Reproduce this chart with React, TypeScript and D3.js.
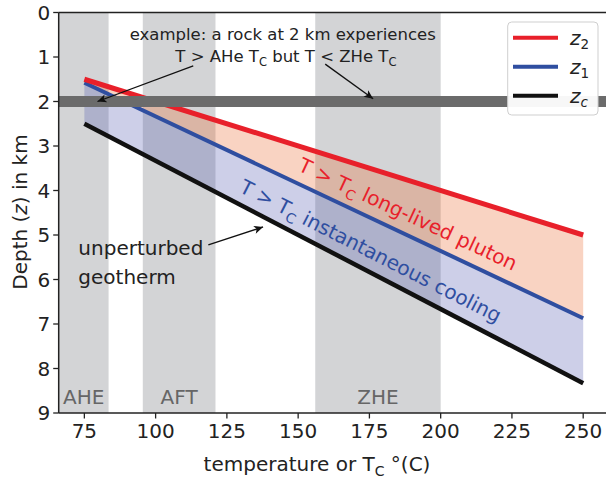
import React from 'react';
import * as d3 from 'd3';

// Geotherm depths (km) at the ends of the temperature range (°C)
const temps = [75, 250];
const z2Depth = [1.5, 5.0];
const z1Depth = [1.58, 6.87];
const zcDepth = [2.5, 8.33];

const xTicks = [75, 100, 125, 150, 175, 200, 225, 250];
const yTicks = [0, 1, 2, 3, 4, 5, 6, 7, 8, 9];

// Closure-temperature windows of the thermochronometers
const bandNames = ['AHE', 'AFT', 'ZHE'];
const bandLo = [60, 95.5, 156];
const bandHi = [83.5, 121, 200];

const exampleDepth = 2;

const legendNames = ['2', '1', 'c'];
const legendColors = ['#e8202a', '#2f4ea0', '#111111'];

const W = 606;
const H = 486;
const FONT = 'DejaVu Sans';

type Piece = { t: string; sub?: boolean };

// Text runs with lowered subscripts; the baseline is restored on the run after a subscript
function runs(pieces: Piece[], subSize: number, shift: number) {
  return pieces.map((p, i) => {
    const prevSub = i > 0 && pieces[i - 1].sub;
    const dy = p.sub ? shift : prevSub ? -shift : 0;
    return (
      <tspan key={i} dy={dy || undefined} fontSize={p.sub ? subSize : undefined}>{p.t}</tspan>
    );
  });
}

export default function App() {
  const x = d3.scaleLinear().domain([66, 258]).range([58.7, 606]);
  const y = d3.scaleLinear().domain([0, 9]).range([12.5, 413]);
  const [xMin, xMax] = x.domain();

  const rows = temps.map((t, i) => ({ t, z2: z2Depth[i], z1: z1Depth[i], zc: zcDepth[i] }));

  const area = (top: string, bot: string) =>
    d3.area<any>().x(d => x(d.t)).y0(d => y(d[top])).y1(d => y(d[bot]))(rows) as string;
  const line = (key: string) => d3.line<any>().x(d => x(d.t)).y(d => y(d[key]))(rows) as string;

  const arrow = (t0: number, d0: number, t1: number, d1: number, key: string) => (
    <line key={key} x1={x(t0)} y1={y(d0)} x2={x(t1)} y2={y(d1)} stroke="#111" strokeWidth={1.3} markerEnd="url(#ah)" />
  );

  const redLabelPos = [149.6, 3.54];
  const blueLabelPos = [129.0, 4.02];

  return (
    <svg width={W} height={H} style={{ position: 'absolute', left: 0, top: 0, background: '#fff' }} fontFamily={FONT}>
      <defs>
        <marker id="ah" viewBox="0 0 10 10" refX={10} refY={5} markerWidth={10} markerHeight={9}
          markerUnits="userSpaceOnUse" orient="auto">
          <path d="M0,0.5 L10,5 L0,9.5 L2.5,5 z" fill="#111" />
        </marker>
        <clipPath id="plot">
          <rect x={x(xMin)} y={y(0)} width={x(xMax) - x(xMin)} height={y(9) - y(0)} />
        </clipPath>
      </defs>

      <g clipPath="url(#plot)">
        {bandNames.map((n, i) => {
          const lo = Math.max(bandLo[i], xMin);
          return (
            <rect key={n} x={x(lo)} y={y(0)} width={x(bandHi[i]) - x(lo)} height={y(9) - y(0)} fill="#d3d4d6" />
          );
        })}
        {bandNames.map((n, i) => {
          const lo = Math.max(bandLo[i], xMin);
          return (
            <text key={n + 't'} x={x((lo + bandHi[i]) / 2)} y={y(8.8)} textAnchor="middle" fontSize={20} fill="#666">{n}</text>
          );
        })}

        <path d={area('z2', 'z1')} fill="#eb6c34" fillOpacity={0.3} />
        <path d={area('z1', 'zc')} fill="#5860b2" fillOpacity={0.3} />

        <path d={line('zc')} fill="none" stroke={legendColors[2]} strokeWidth={4.5} />
        <path d={line('z1')} fill="none" stroke={legendColors[1]} strokeWidth={4} />
        <path d={line('z2')} fill="none" stroke={legendColors[0]} strokeWidth={5} />

        <line x1={x(xMin)} x2={x(xMax)} y1={y(exampleDepth)} y2={y(exampleDepth)} stroke="#6b6b6b" strokeWidth={11} />
      </g>

      {/* labels along the geotherms */}
      <text transform={`translate(${x(redLabelPos[0])},${y(redLabelPos[1])}) rotate(25)`} fontSize={20} fill="#e8202a">
        {runs([{ t: 'T > T' }, { t: 'C', sub: true }, { t: ' long-lived pluton' }], 14, 5)}
      </text>
      <text transform={`translate(${x(blueLabelPos[0])},${y(blueLabelPos[1])}) rotate(27)`} fontSize={20} fill="#2f4ea0">
        {runs([{ t: 'T > T' }, { t: 'C', sub: true }, { t: ' instantaneous cooling' }], 14, 5)}
      </text>

      {/* example annotation */}
      <text x={x(144.6)} y={y(0.607)} textAnchor="middle" fontSize={16.5} fill="#222">
        example: a rock at 2 km experiences
      </text>
      <text x={x(145.7)} y={y(1.105)} textAnchor="middle" fontSize={16.5} fill="#222">
        {runs([{ t: 'T > AHe T' }, { t: 'C', sub: true }, { t: ' but T < ZHe T' }, { t: 'C', sub: true }], 11.5, 4)}
      </text>
      {arrow(113.2, 1.2, 79.6, 2.0, 'a1')}
      {arrow(159.5, 1.16, 176.3, 1.94, 'a2')}

      <text x={x(72.9)} y={y(5.45)} fontSize={20} fill="#222">unperturbed</text>
      <text x={x(72.9)} y={y(6.1)} fontSize={20} fill="#222">geotherm</text>
      {arrow(118.5, 5.22, 137.7, 4.82, 'a3')}

      {/* axes */}
      <line x1={x(xMin)} x2={x(xMax)} y1={y(0)} y2={y(0)} stroke="#222" strokeWidth={1.5} />
      <line x1={x(xMin)} x2={x(xMax)} y1={y(9)} y2={y(9)} stroke="#222" strokeWidth={1.5} />
      <line x1={x(xMin)} x2={x(xMin)} y1={y(0)} y2={y(9)} stroke="#222" strokeWidth={1.5} />
      {xTicks.map(t => (
        <g key={t} transform={`translate(${x(t)},${y(9)})`}>
          <line y2={5.5} stroke="#222" strokeWidth={1.3} />
          <text y={24.5} textAnchor="middle" fontSize={20} fill="#222">{t}</text>
        </g>
      ))}
      {yTicks.map(d => (
        <g key={d} transform={`translate(${x(xMin)},${y(d)})`}>
          <line x2={-5.5} stroke="#222" strokeWidth={1.3} />
          <text x={-8.5} dy="0.36em" textAnchor="end" fontSize={20} fill="#222">{d}</text>
        </g>
      ))}

      <text x={317} y={471} textAnchor="middle" fontSize={20} fill="#222">
        {runs([{ t: 'temperature or T' }, { t: 'C', sub: true }, { t: ' °(C)' }], 14, 5)}
      </text>
      <text transform="translate(27,212) rotate(-90)" textAnchor="middle" fontSize={20} fill="#222">
        Depth (<tspan fontStyle="italic">z</tspan>) in km
      </text>

      {/* legend */}
      <rect x={507.7} y={22} width={90.3} height={93} rx={4} fill="#fff" fillOpacity={0.95} stroke="#cfcfcf" strokeWidth={1} />
      {legendNames.map((n, i) => {
        const ly = 37.7 + i * 29;
        return (
          <g key={n}>
            <line x1={513} x2={558} y1={ly} y2={ly} stroke={legendColors[i]} strokeWidth={4} />
            <text x={570} y={ly + 7.3} fontSize={20} fontStyle="italic" fill="#222">
              z<tspan fontSize={13.5} dy={3.5} fontStyle={n === 'c' ? 'italic' : 'normal'}>{n}</tspan>
            </text>
          </g>
        );
      })}
    </svg>
  );
}
